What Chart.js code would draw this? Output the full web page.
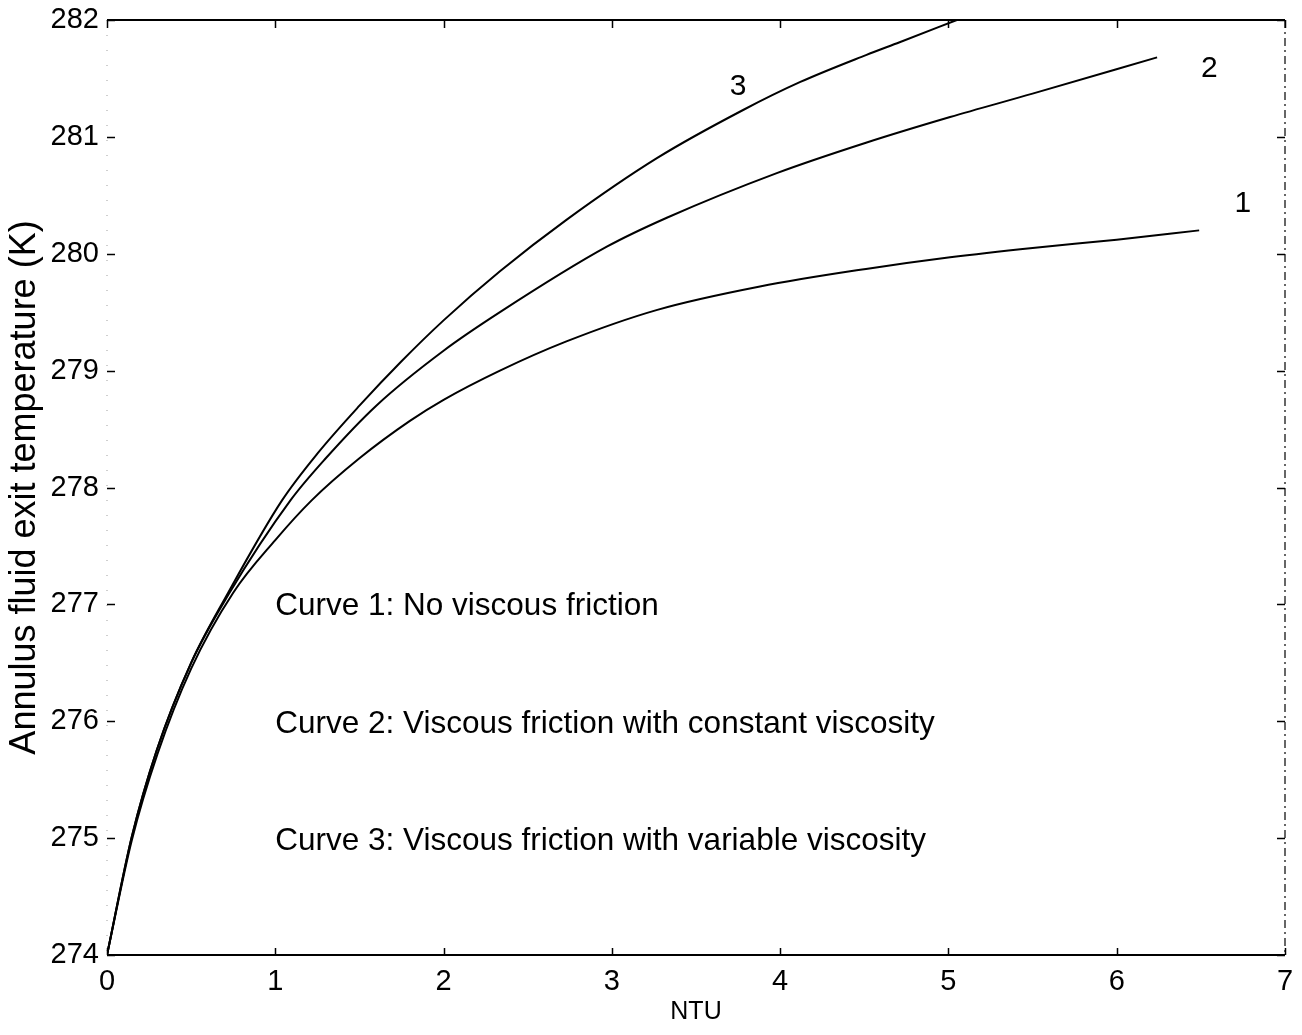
<!DOCTYPE html>
<html>
<head>
<meta charset="utf-8">
<title>Annulus fluid exit temperature vs NTU</title>
<script src="https://cdn.jsdelivr.net/npm/chart.js@4.4.1/dist/chart.umd.min.js"></script>
<style>
  html, body { margin: 0; padding: 0; background: #ffffff; }
  #wrap { width: 1302px; height: 1035px; }
</style>
</head>
<body>
<div id="wrap"><canvas id="chart" width="1302" height="1035"></canvas></div>
<script>
// Curve 1: no viscous friction
const ntu1  = [0, 0.147, 0.30, 0.50, 0.75, 1.00, 1.216, 1.50, 1.80, 2.00, 2.335, 2.73, 3.27, 3.88, 4.51, 5.01, 5.50, 6.00, 6.49];
const temp1 = [274, 274.98, 275.72, 276.45, 277.10, 277.55, 277.89, 278.25, 278.57, 278.75, 279.00, 279.25, 279.52, 279.72, 279.87, 279.97, 280.05, 280.12, 280.20];

// Curve 2: viscous friction with constant viscosity
const ntu2  = [0, 0.147, 0.295, 0.50, 0.72, 1.09, 1.30, 1.60, 2.00, 2.335, 2.97, 3.33, 3.98, 4.51, 5.01, 5.50, 6.24];
const temp2 = [274, 275.01, 275.75, 276.50, 277.08, 277.89, 278.25, 278.70, 279.17, 279.50, 280.06, 280.31, 280.69, 280.95, 281.17, 281.37, 281.68];

// Curve 3: viscous friction with variable viscosity
const ntu3  = [0, 0.147, 0.295, 0.50, 0.72, 1.04, 1.25, 1.50, 1.75, 2.00, 2.335, 2.73, 3.27, 3.78, 4.12, 4.51, 4.71, 5.05];
const temp3 = [274, 275.01, 275.75, 276.50, 277.10, 277.89, 278.29, 278.70, 279.08, 279.43, 279.85, 280.29, 280.82, 281.23, 281.47, 281.70, 281.81, 282.00];

// Axis ticks
const xTickValues = [0, 1, 2, 3, 4, 5, 6, 7];
const yTickValues = [274, 275, 276, 277, 278, 279, 280, 281, 282];

// Curve numbers written beside each curve (anchor in data units)
const curveNumbers = ['1', '2', '3'];
const curveNumberNtu = [6.75, 6.55, 3.75];
const curveNumberTemp = [280.43, 281.58, 281.43];

// Key text inside the plot (left edge / middle, in data units)
const keyLines = [
  'Curve 1: No viscous friction',
  'Curve 2: Viscous friction with constant viscosity',
  'Curve 3: Viscous friction with variable viscosity'
];
const keyNtu = [1, 1, 1];
const keyTemp = [276.98, 275.97, 274.97];

const FONT = "'Liberation Sans', Arial, Helvetica, sans-serif";

function toPoints(xs, ys) {
  return xs.map((x, i) => ({ x: x, y: ys[i] }));
}

// Box, inward tick marks and text annotations
const framePlugin = {
  id: 'frame',
  afterDatasetsDraw(chart) {
    const { ctx, chartArea: a, scales: { x, y } } = chart;
    ctx.save();
    ctx.lineCap = 'butt';

    // top and bottom edges: solid
    ctx.strokeStyle = '#000';
    ctx.lineWidth = 2;
    ctx.beginPath();
    ctx.moveTo(a.left, a.top); ctx.lineTo(a.right, a.top);
    ctx.moveTo(a.left, a.bottom); ctx.lineTo(a.right, a.bottom);
    ctx.stroke();

    // left edge: very faint dots
    ctx.strokeStyle = 'rgba(0,0,0,0.25)';
    ctx.lineWidth = 1.5;
    ctx.setLineDash([1, 14]);
    ctx.beginPath();
    ctx.moveTo(a.left, a.top); ctx.lineTo(a.left, a.bottom);
    ctx.stroke();

    // right edge: broken dashes
    ctx.strokeStyle = 'rgba(0,0,0,0.8)';
    ctx.lineWidth = 1.5;
    ctx.setLineDash([8, 4, 2, 4]);
    ctx.beginPath();
    ctx.moveTo(a.right, a.top); ctx.lineTo(a.right, a.bottom);
    ctx.stroke();
    ctx.setLineDash([]);

    // tick marks pointing into the plot
    ctx.strokeStyle = '#000';
    ctx.lineWidth = 1.5;
    ctx.beginPath();
    xTickValues.forEach(v => {
      const px = Math.round(x.getPixelForValue(v)) + 0.5;
      ctx.moveTo(px, a.bottom); ctx.lineTo(px, a.bottom - 7);
      ctx.moveTo(px, a.top); ctx.lineTo(px, a.top + 8);
    });
    yTickValues.forEach(v => {
      const py = Math.round(y.getPixelForValue(v)) + 0.5;
      ctx.moveTo(a.left, py); ctx.lineTo(a.left + 8, py);
      ctx.moveTo(a.right, py); ctx.lineTo(a.right - 8, py);
    });
    ctx.stroke();

    // curve numbers
    ctx.fillStyle = '#000';
    ctx.font = '30px ' + FONT;
    ctx.textAlign = 'center';
    ctx.textBaseline = 'middle';
    curveNumbers.forEach((t, i) => {
      ctx.fillText(t, x.getPixelForValue(curveNumberNtu[i]), y.getPixelForValue(curveNumberTemp[i]));
    });

    // key text
    ctx.font = '31.5px ' + FONT;
    ctx.textAlign = 'left';
    keyLines.forEach((t, i) => {
      ctx.fillText(t, x.getPixelForValue(keyNtu[i]), y.getPixelForValue(keyTemp[i]));
    });
    ctx.restore();
  }
};

const lineStyle = {
  borderColor: '#000',
  borderWidth: 2,
  pointRadius: 0,
  fill: false,
  cubicInterpolationMode: 'monotone'
};

new Chart(document.getElementById('chart'), {
  type: 'line',
  data: {
    datasets: [
      Object.assign({ label: 'Curve 1', data: toPoints(ntu1, temp1) }, lineStyle),
      Object.assign({ label: 'Curve 2', data: toPoints(ntu2, temp2) }, lineStyle),
      Object.assign({ label: 'Curve 3', data: toPoints(ntu3, temp3) }, lineStyle)
    ]
  },
  options: {
    responsive: false,
    animation: false,
    devicePixelRatio: 1,
    layout: { padding: { top: 20, right: 17, left: 0, bottom: 0 } },
    plugins: { legend: { display: false }, tooltip: { enabled: false } },
    scales: {
      x: {
        type: 'linear',
        min: 0, max: 7,
        afterBuildTicks: s => { s.ticks = xTickValues.map(v => ({ value: v })); },
        afterFit: s => { s.height = 80; s.paddingLeft = 0; s.paddingRight = 0; },
        grid: { display: false, drawTicks: false },
        border: { display: false },
        ticks: { color: '#000', font: { family: FONT, size: 29 }, padding: 10, maxRotation: 0, autoSkip: false },
        title: { display: true, text: 'NTU', color: '#000', font: { family: FONT, size: 25 }, padding: { top: 0, bottom: 8 } }
      },
      y: {
        type: 'linear',
        min: 274, max: 282,
        afterBuildTicks: s => { s.ticks = yTickValues.map(v => ({ value: v })); },
        afterFit: s => { s.width = 107; s.paddingTop = 0; s.paddingBottom = 0; },
        grid: { display: false, drawTicks: false },
        border: { display: false },
        ticks: { color: '#000', font: { family: FONT, size: 29 }, padding: 8, autoSkip: false },
        title: { display: true, text: 'Annulus fluid exit temperature (K)', color: '#000', font: { family: FONT, size: 36 }, padding: { top: 3, bottom: 0 } }
      }
    }
  },
  plugins: [framePlugin]
});
</script>
</body>
</html>
